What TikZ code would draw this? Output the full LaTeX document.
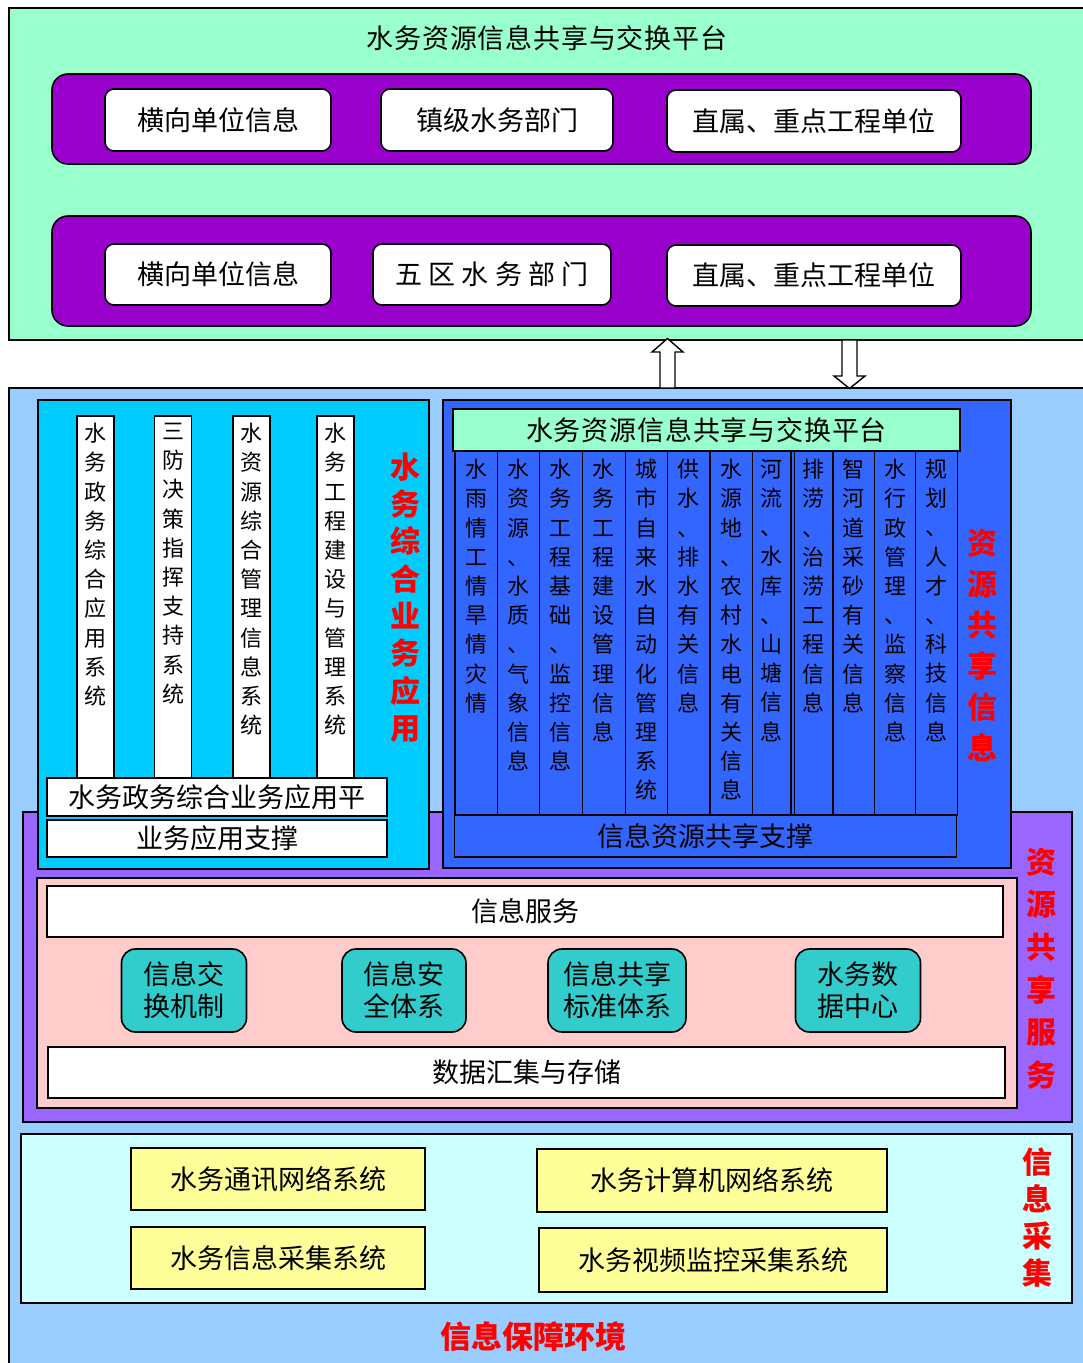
\documentclass[tikz,border=0pt]{standalone}
\usepackage{fontspec}
\setmainfont{Noto Sans CJK SC}
\definecolor{mint}{HTML}{99FFCC}
\definecolor{grape}{HTML}{9900CC}
\definecolor{sky}{HTML}{99CCFF}
\definecolor{aqua}{HTML}{00CCFF}
\definecolor{royal}{HTML}{3366FF}
\definecolor{lilac}{HTML}{9966FF}
\definecolor{blush}{HTML}{FFCCCC}
\definecolor{tealc}{HTML}{33CCCC}
\definecolor{ice}{HTML}{CCFFFF}
\definecolor{butter}{HTML}{FFFF99}

% one character per line, for the upright labels
\newcommand{\vtxt}[1]{\expandafter\vtxtA#1\relax}
\long\def\vtxtdrop#1{}
\long\def\vtxtkeep#1{#1}
\def\vtxtA#1#2{#1\ifx#2\relax\expandafter\vtxtdrop\else\expandafter\vtxtkeep\fi{\\\vtxtA#2}}

\begin{document}
\begin{tikzpicture}[x=1pt, y=-1pt,
  every node/.style={inner sep=0pt},
  lay/.style={draw, line width=1.6pt},
  grpbox/.style={lay, fill=grape, rounded corners=16pt},
  unitbox/.style={lay, fill=white, rounded corners=9pt, font=\fontsize{27}{32}\selectfont},
  barbox/.style={lay, line width=1.4pt, fill=white},
  colbox/.style={lay, line width=1.4pt, fill=royal},
  strip/.style={lay, fill=white, font=\fontsize{27}{32}\selectfont},
  tealbox/.style={lay, fill=tealc, rounded corners=14pt, align=center,
                  font=\fontsize{27}{32}\selectfont},
  yelbox/.style={lay, fill=butter, font=\fontsize{27}{32}\selectfont},
  wide/.style={font=\fontsize{27}{32}\selectfont\addfontfeature{LetterSpace=3}},
  vtext/.style={text width=24pt, align=center, font=\fontsize{22}{29.2}\selectfont},
  redtag/.style={text=red, text width=36pt, align=center,
                 font=\bfseries\fontsize{30}{#1}\selectfont},
  blk/.style={draw, line width=1.4pt, fill=white}]

\fill[white] (0,0) rectangle (1083,1363);
\useasboundingbox (0,0) rectangle (1083,1363);
\clip (0,0) rectangle (1083,1363);

% ------------------------------------------------ exchange platform on top ---
\node[lay, fill=mint, minimum width=1081, minimum height=332] (plat) at (549.5,174) {};
\node[wide] (platt) at (547,38) {水务资源信息共享与交换平台};

\node[grpbox, minimum width=979, minimum height=90] (g1) at (541.5,119) {};
\node[grpbox, minimum width=979, minimum height=110] (g2) at (541.5,271) {};

\node[unitbox, minimum width=226, minimum height=62] (u1a) at (218,120) {横向单位信息};
\node[unitbox, minimum width=232, minimum height=62] (u1b) at (497,120) {镇级水务部门};
\node[unitbox, minimum width=294, minimum height=62] (u1c) at (814,121) {直属、重点工程单位};
\node[unitbox, minimum width=226, minimum height=61] (u2a) at (218,274.5) {横向单位信息};
\node[unitbox, minimum width=238, minimum height=61] (u2b) at (492,274.5) {五 区 水 务 部 门};
\node[unitbox, minimum width=294, minimum height=61] (u2c) at (814,275.5) {直属、重点工程单位};

% ------------------------------------------------ environment below ---
\node[lay, fill=sky, minimum width=1081, minimum height=982] (env) at (549.5,879) {};

% up and down between the two
\draw[blk] (660,388) -- (660,352) -- (652,352) -- (667.5,338.5) -- (683,352)
           -- (675,352) -- (675,388) -- cycle;
\draw[blk] (842,340) -- (842,376) -- (834,376) -- (849.5,388.5) -- (865,376)
           -- (857,376) -- (857,340) -- cycle;

\node[lay, fill=lilac, minimum width=1049, minimum height=310] (svc) at (547.5,967) {};

% application block
\node[lay, fill=aqua, minimum width=391, minimum height=469] (app) at (233.5,634.5) {};
\foreach \i/\x/\tx in {1/95.5/水务政务综合应用系统, 2/173/三防决策指挥支持系统,
                        3/251.5/水资源综合管理信息系统, 4/335.5/水务工程建设与管理系统}
{
  \node[barbox, minimum width=37, minimum height=362] (b\i) at (\x,597) {};
  \node[vtext, anchor=north] (bt\i) at (\x,423) {\vtxt{\tx}};
}
\node[strip, minimum width=340, minimum height=38] (ap1) at (217,797) {水务政务综合业务应用平};
\node[strip, minimum width=340, minimum height=37] (ap2) at (217,838.5) {业务应用支撑};
\node[redtag=37.3] (appl) at (405,597.5) {\vtxt{水务综合业务应用}};

% shared information block
\node[lay, fill=royal, minimum width=568, minimum height=468] (info) at (727,634) {};
\node[lay, wide, line width=1.4pt, fill=mint, minimum width=507, minimum height=42]
      (infot) at (706.5,430) {水务资源信息共享与交换平台};
\foreach \i/\xa/\xb/\tx in {1/455/497.4/水雨情工情旱情灾情, 2/497.4/539.6/水资源、水质、气象信息,
    3/539.6/582.3/水务工程基础、监控信息, 4/582.3/625.3/水务工程建设管理信息,
    5/625.3/667.6/城市自来水自动化管理系统, 6/667.6/709.8/供水、排水有关信息,
    7/709.8/752.5/水源地、农村水电有关信息, 8/752.5/791/河流、水库、山塘信息,
    9/794.5/833/排涝、治涝工程信息, 10/833/874.7/智河道采砂有关信息,
    11/874.7/915.7/水行政管理、监察信息, 12/915.7/957.5/规划、人才、科技信息}
{
  \node[colbox, minimum width=\xb-\xa, minimum height=364] (c\i) at ({(\xa+\xb)/2},633) {};
  \node[vtext, anchor=north] (ct\i) at ({(\xa+\xb)/2},459) {\vtxt{\tx}};
}
\node[colbox, minimum width=502, minimum height=42,
      font=\fontsize{27}{32}\selectfont] (infos) at (705.5,836) {信息资源共享支撑};
\node[redtag=41] (infol) at (982,645.5) {\vtxt{资源共享信息}};

% service block
\node[lay, fill=blush, minimum width=980, minimum height=230] (svcp) at (527,993) {};
\node[strip, minimum width=956, minimum height=51] (isv) at (525,911.5) {信息服务};
\node[tealbox, minimum width=125, minimum height=83] (t1) at (184,990.5) {信息交\\换机制};
\node[tealbox, minimum width=124, minimum height=83] (t2) at (404,990.5) {信息安\\全体系};
\node[tealbox, minimum width=138, minimum height=83] (t3) at (617,990.5) {信息共享\\标准体系};
\node[tealbox, minimum width=125, minimum height=83] (t4) at (858,990.5) {水务数\\据中心};
\node[strip, minimum width=957, minimum height=51] (dst) at (526.5,1072.5) {数据汇集与存储};
\node[redtag=42.6] (svcl) at (1041,968.5) {\vtxt{资源共享服务}};

% collection block
\node[lay, fill=ice, minimum width=1051, minimum height=169] (coll) at (546.5,1218.5) {};
\node[yelbox, minimum width=294, minimum height=62] (y1) at (278,1179) {水务通讯网络系统};
\node[yelbox, minimum width=350, minimum height=63] (y2) at (712,1180.5) {水务计算机网络系统};
\node[yelbox, minimum width=294, minimum height=62] (y3) at (278,1258) {水务信息采集系统};
\node[yelbox, minimum width=348, minimum height=64] (y4) at (713,1260) {水务视频监控采集系统};
\node[redtag=37] (colll) at (1037,1217.5) {\vtxt{信息采集}};

\node[text=red, font=\bfseries\fontsize{31}{36}\selectfont] (envl) at (533,1337) {信息保障环境};

\end{tikzpicture}
\end{document}
